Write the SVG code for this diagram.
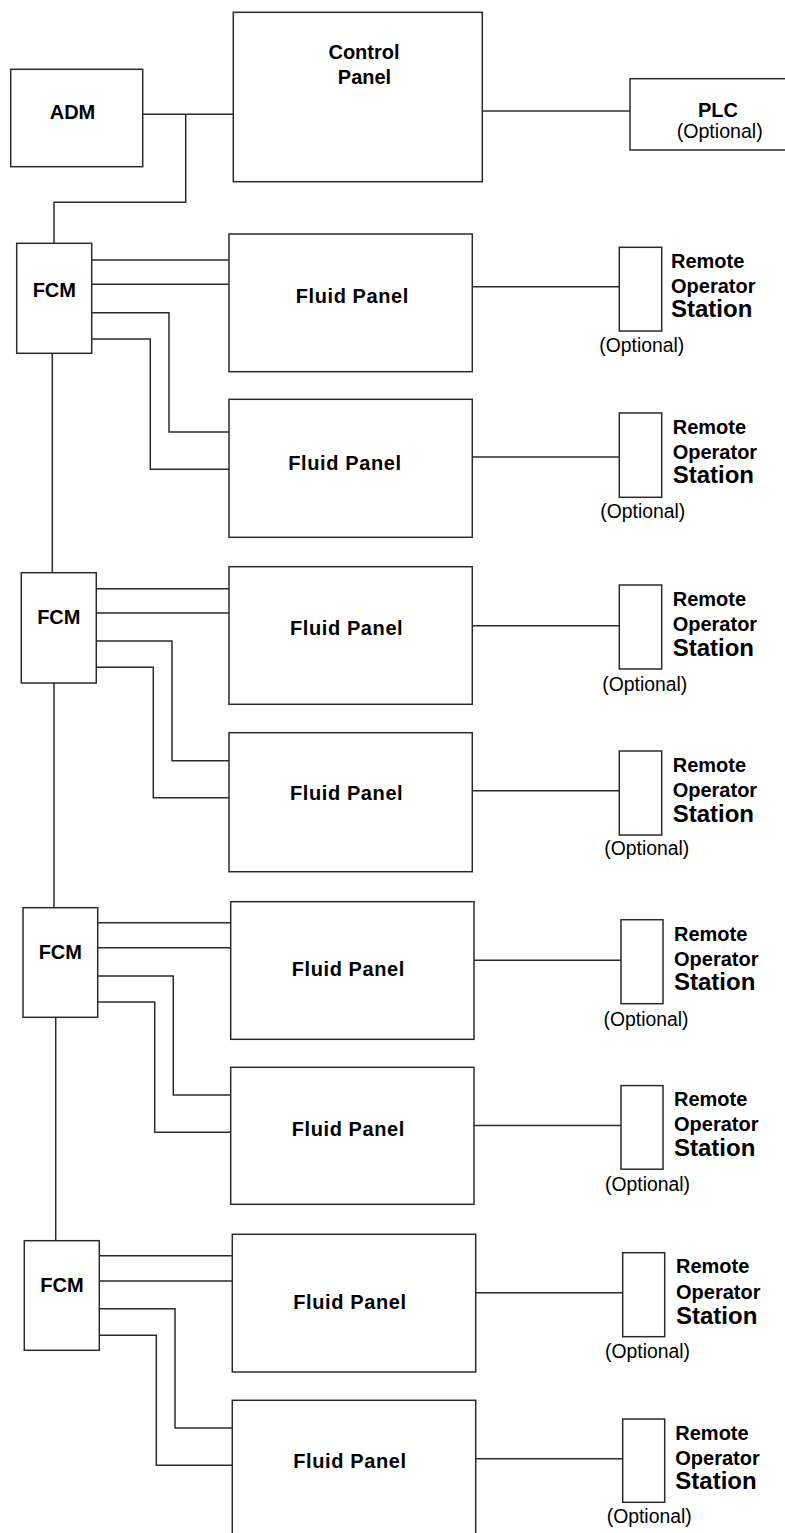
<svg xmlns="http://www.w3.org/2000/svg" width="785" height="1533" viewBox="0 0 785 1533">
<style>
.box{fill:#fff;stroke:#2b2b2b;stroke-width:1.5}
.ln{fill:none;stroke:#2b2b2b;stroke-width:1.5}
.b{font-family:"Liberation Sans",Arial,sans-serif;font-weight:bold;font-size:20px;fill:#000}
.st{font-family:"Liberation Sans",Arial,sans-serif;font-weight:bold;font-size:24px;fill:#000}
.fp{font-family:"Liberation Sans",Arial,sans-serif;font-weight:bold;font-size:20px;letter-spacing:0.6px;fill:#000}
.op{font-family:"Liberation Sans",Arial,sans-serif;font-size:20px;fill:#000}
.m{text-anchor:middle}
</style>
<rect width="785" height="1533" fill="#fff"/>
<g id="connectors">
<path class="ln" d="M142.7,114.3H233.3M185.7,114.3V202.3H54V243.3"/>
<path class="ln" d="M482.3,111H630"/>
<path class="ln" d="M52.3,353.3V572.7M54,683V907.7M55.7,1017.3V1240.7"/>
<path class="ln" d="M91.7,260H229M91.7,284.3H229M91.7,312.7H169V432H229M91.7,339H150.3V469.3H229"/>
<path class="ln" d="M96.3,588.7H229M96.3,613H229M96.3,641H172V760.7H229M96.3,667.3H153.3V797.7H229"/>
<path class="ln" d="M97.7,922.7H230.7M97.7,947.7H230.7M97.7,976H173.3V1095H230.7M97.7,1002H154.7V1132.3H230.7"/>
<path class="ln" d="M99.3,1255.7H232.3M99.3,1281H232.3M99.3,1308.7H175V1428H232.3M99.3,1335.3H156.3V1465.3H232.3"/>
<path class="ln" d="M472.3,286.7H619.3M472.3,457H619.3"/>
<path class="ln" d="M472.3,625.7H619.3M472.3,790.7H619.3"/>
<path class="ln" d="M474,960.2H621M474,1125.6H621"/>
<path class="ln" d="M475.7,1292.7H622.7M475.7,1458.7H622.7"/>
</g>
<g id="adm"><rect class="box" x="10.7" y="69.3" width="132" height="97.4"/><text class="b m" x="72.5" y="119.3" font-size="19">ADM</text></g>
<g id="control-panel"><rect class="box" x="233.3" y="12.3" width="249" height="169.4"/><text class="b m" x="364" y="59">Control</text><text class="b m" x="364.5" y="84">Panel</text></g>
<g id="plc"><rect class="box" x="630" y="78.7" width="160" height="71.3"/><text class="b m" x="718" y="116.7">PLC</text><text class="op" x="676.7" y="138" textLength="86" lengthAdjust="spacingAndGlyphs">(Optional)</text></g>

<g id="fcm1"><rect class="box" x="16.7" y="243.3" width="75" height="110"/><text class="b m" x="54.3" y="296.7">FCM</text></g>
<g id="fcm2"><rect class="box" x="21.3" y="572.7" width="75" height="110.3"/><text class="b m" x="58.8" y="624">FCM</text></g>
<g id="fcm3"><rect class="box" x="23" y="907.7" width="74.7" height="109.6"/><text class="b m" x="60.3" y="959.3">FCM</text></g>
<g id="fcm4"><rect class="box" x="24.3" y="1240.7" width="75" height="109.6"/><text class="b m" x="62" y="1291.7">FCM</text></g>

<g id="fp1"><rect class="box" x="229" y="234" width="243.3" height="137.7"/><text class="fp" x="295.7" y="302.7">Fluid Panel</text></g>
<g id="fp2"><rect class="box" x="229" y="399.3" width="243.3" height="138"/><text class="fp" x="288.3" y="470">Fluid Panel</text></g>
<g id="fp3"><rect class="box" x="229" y="566.7" width="243.3" height="137.6"/><text class="fp" x="290" y="635">Fluid Panel</text></g>
<g id="fp4"><rect class="box" x="229" y="732.7" width="243.3" height="139"/><text class="fp" x="290" y="800">Fluid Panel</text></g>
<g id="fp5"><rect class="box" x="230.7" y="901.7" width="243.3" height="137.6"/><text class="fp" x="291.7" y="976">Fluid Panel</text></g>
<g id="fp6"><rect class="box" x="230.7" y="1067.3" width="243.3" height="137"/><text class="fp" x="291.7" y="1135.7">Fluid Panel</text></g>
<g id="fp7"><rect class="box" x="232.3" y="1234.3" width="243.4" height="137.7"/><text class="fp" x="293.3" y="1309.3">Fluid Panel</text></g>
<g id="fp8"><rect class="box" x="232.3" y="1400.3" width="243.4" height="160"/><text class="fp" x="293.3" y="1468.3">Fluid Panel</text></g>

<g id="ros1"><rect class="box" x="619.3" y="247.3" width="42.4" height="83.7"/><text class="b" x="671" y="268.3">Remote</text><text class="b" x="671" y="293.3">Operator</text><text class="st" x="671" y="317.3">Station</text><text class="op" x="599.3" y="352" textLength="85" lengthAdjust="spacingAndGlyphs">(Optional)</text></g>
<g id="ros2"><rect class="box" x="619.3" y="413" width="42.4" height="84.3"/><text class="b" x="672.7" y="434">Remote</text><text class="b" x="672.7" y="459.3">Operator</text><text class="st" x="672.7" y="483.3">Station</text><text class="op" x="600.3" y="518" textLength="85" lengthAdjust="spacingAndGlyphs">(Optional)</text></g>
<g id="ros3"><rect class="box" x="619.3" y="585" width="42.4" height="84"/><text class="b" x="672.7" y="606">Remote</text><text class="b" x="672.7" y="631">Operator</text><text class="st" x="672.7" y="655.7">Station</text><text class="op" x="602.3" y="691" textLength="85" lengthAdjust="spacingAndGlyphs">(Optional)</text></g>
<g id="ros4"><rect class="box" x="619.3" y="751" width="42.4" height="84"/><text class="b" x="672.7" y="771.7">Remote</text><text class="b" x="672.7" y="796.7">Operator</text><text class="st" x="672.7" y="822.3">Station</text><text class="op" x="604.3" y="855" textLength="85" lengthAdjust="spacingAndGlyphs">(Optional)</text></g>
<g id="ros5"><rect class="box" x="621" y="919.7" width="42" height="84"/><text class="b" x="674" y="940.7">Remote</text><text class="b" x="674" y="965.7">Operator</text><text class="st" x="674" y="990.4">Station</text><text class="op" x="603.5" y="1025.5" textLength="85" lengthAdjust="spacingAndGlyphs">(Optional)</text></g>
<g id="ros6"><rect class="box" x="621" y="1085.6" width="42" height="83.6"/><text class="b" x="674" y="1106.4">Remote</text><text class="b" x="674" y="1131.4">Operator</text><text class="st" x="674" y="1156">Station</text><text class="op" x="605" y="1190.5" textLength="85" lengthAdjust="spacingAndGlyphs">(Optional)</text></g>
<g id="ros7"><rect class="box" x="622.7" y="1252.7" width="42" height="84"/><text class="b" x="676" y="1273.3">Remote</text><text class="b" x="676" y="1299">Operator</text><text class="st" x="676" y="1324">Station</text><text class="op" x="605" y="1357.5" textLength="85" lengthAdjust="spacingAndGlyphs">(Optional)</text></g>
<g id="ros8"><rect class="box" x="622.7" y="1419" width="42" height="83.3"/><text class="b" x="675.3" y="1440">Remote</text><text class="b" x="675.3" y="1465">Operator</text><text class="st" x="675.3" y="1489.3">Station</text><text class="op" x="606.7" y="1523" textLength="85" lengthAdjust="spacingAndGlyphs">(Optional)</text></g>
</svg>
